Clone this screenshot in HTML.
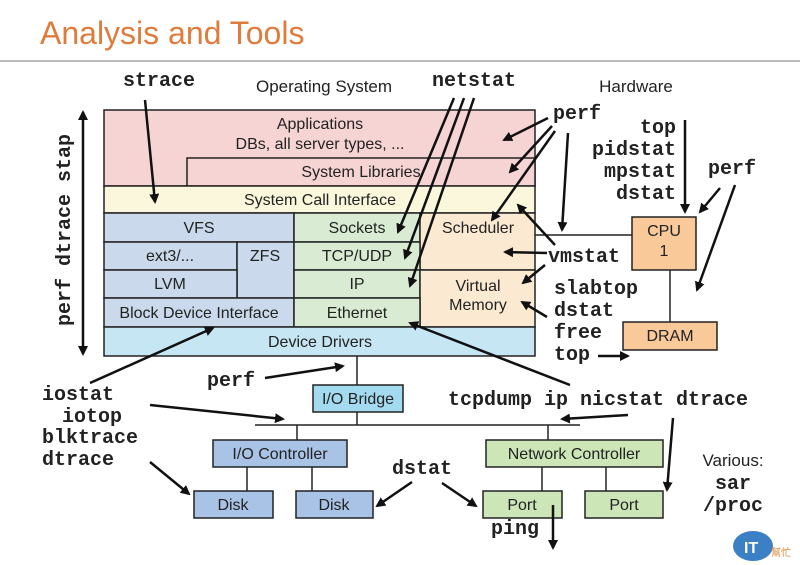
<!DOCTYPE html>
<html><head><meta charset="utf-8"><style>
html,body{margin:0;padding:0;background:#fff;width:800px;height:565px;overflow:hidden}
svg{display:block}
.s{font-family:"Liberation Sans",sans-serif;font-size:16px;fill:#222}
.m{font-family:"Liberation Mono",monospace;font-size:20px;font-weight:bold;fill:#222}
</style></head><body>
<svg width="800" height="565" viewBox="0 0 800 565">
<defs><marker id="a" markerWidth="10" markerHeight="10" refX="8" refY="5" orient="auto" markerUnits="userSpaceOnUse"><path d="M0,0 L10,5 L0,10 z" fill="#111"/></marker>
<marker id="b" markerWidth="10" markerHeight="10" refX="2" refY="5" orient="auto" markerUnits="userSpaceOnUse"><path d="M10,0 L0,5 L10,10 z" fill="#111"/></marker></defs>
<text x="40" y="44" font-family="Liberation Sans,sans-serif" font-size="32" fill="#e07b3c">Analysis and Tools</text>
<line x1="0" y1="61" x2="800" y2="61" stroke="#bbb" stroke-width="2"/>
<g stroke="#222" stroke-width="1.5">
<rect x="104" y="110" width="431" height="76" fill="#f6d4d4"/>
<rect x="187" y="158" width="348" height="28" fill="#f6d4d4"/>
<rect x="104" y="186" width="431" height="27" fill="#fbf7dc"/>
<rect x="104" y="213" width="190" height="29" fill="#cadaec"/>
<rect x="294" y="213" width="126" height="29" fill="#d9ecd3"/>
<rect x="420" y="213" width="115" height="57" fill="#fbead1"/>
<rect x="104" y="242" width="133" height="28" fill="#cadaec"/>
<rect x="237" y="242" width="57" height="56" fill="#cadaec"/>
<rect x="294" y="242" width="126" height="28" fill="#d9ecd3"/>
<rect x="104" y="270" width="133" height="28" fill="#cadaec"/>
<rect x="294" y="270" width="126" height="28" fill="#d9ecd3"/>
<rect x="420" y="270" width="115" height="57" fill="#fbead1"/>
<rect x="104" y="298" width="190" height="29" fill="#cadaec"/>
<rect x="294" y="298" width="126" height="29" fill="#d9ecd3"/>
<rect x="104" y="327" width="431" height="29" fill="#c6e6f3"/>
<line x1="535" y1="235" x2="632" y2="235"/>
<rect x="632" y="217" width="64" height="53" fill="#f9c99a"/>
<line x1="670" y1="270" x2="670" y2="322"/>
<rect x="623" y="322" width="94" height="28" fill="#f9c99a"/>
<line x1="357" y1="356" x2="357" y2="385"/>
<rect x="313" y="385" width="90" height="27" fill="#a4daef"/>
<line x1="357" y1="412" x2="357" y2="425"/>
<line x1="255" y1="425" x2="580" y2="425"/>
<line x1="297" y1="425" x2="297" y2="440"/>
<line x1="548" y1="425" x2="548" y2="440"/>
<rect x="213" y="440" width="134" height="27" fill="#a9c3e6"/>
<rect x="486" y="440" width="177" height="27" fill="#cde6b8"/>
<line x1="247" y1="467" x2="247" y2="491"/>
<line x1="312" y1="467" x2="312" y2="491"/>
<line x1="542" y1="467" x2="542" y2="491"/>
<line x1="606" y1="467" x2="606" y2="491"/>
<rect x="194" y="491" width="79" height="27" fill="#a9c3e6"/>
<rect x="296" y="491" width="77" height="27" fill="#a9c3e6"/>
<rect x="483" y="491" width="79" height="27" fill="#cde6b8"/>
<rect x="585" y="491" width="78" height="27" fill="#cde6b8"/>
</g>
<g class="s" text-anchor="middle">
<text x="320" y="129">Applications</text>
<text x="320" y="149">DBs, all server types, ...</text>
<text x="361" y="177">System Libraries</text>
<text x="320" y="205">System Call Interface</text>
<text x="199" y="233">VFS</text>
<text x="357" y="233">Sockets</text>
<text x="478" y="233">Scheduler</text>
<text x="170" y="261">ext3/...</text>
<text x="265" y="261">ZFS</text>
<text x="357" y="261">TCP/UDP</text>
<text x="170" y="289">LVM</text>
<text x="357" y="289">IP</text>
<text x="478" y="291">Virtual</text>
<text x="478" y="310">Memory</text>
<text x="199" y="318">Block Device Interface</text>
<text x="357" y="318">Ethernet</text>
<text x="320" y="347">Device Drivers</text>
<text x="664" y="236">CPU</text>
<text x="664" y="256">1</text>
<text x="670" y="341">DRAM</text>
<text x="358" y="404">I/O Bridge</text>
<text x="280" y="459">I/O Controller</text>
<text x="574" y="459">Network Controller</text>
<text x="233" y="510">Disk</text>
<text x="334" y="510">Disk</text>
<text x="522" y="510">Port</text>
<text x="624" y="510">Port</text>
<text x="324" y="92" font-size="17">Operating System</text>
<text x="636" y="92" font-size="17">Hardware</text>
<text x="733" y="466" font-size="17">Various:</text>
</g>
<g class="m">
<text x="123" y="86">strace</text>
<text x="432" y="86">netstat</text>
<text x="553" y="119">perf</text>
<text x="676" y="133" text-anchor="end">top</text>
<text x="676" y="155" text-anchor="end">pidstat</text>
<text x="676" y="177" text-anchor="end">mpstat</text>
<text x="676" y="199" text-anchor="end">dstat</text>
<text x="708" y="174">perf</text>
<text x="548" y="262">vmstat</text>
<text x="554" y="294">slabtop</text>
<text x="554" y="316">dstat</text>
<text x="554" y="338">free</text>
<text x="554" y="360">top</text>
<text x="207" y="386">perf</text>
<text x="42" y="400">iostat</text>
<text x="62" y="422">iotop</text>
<text x="42" y="443">blktrace</text>
<text x="42" y="465">dtrace</text>
<text x="448" y="405">tcpdump ip nicstat dtrace</text>
<text x="392" y="474">dstat</text>
<text x="491" y="534">ping</text>
<text x="733" y="489" text-anchor="middle">sar</text>
<text x="733" y="511" text-anchor="middle">/proc</text>
<text transform="translate(70,230) rotate(-90)" text-anchor="middle">perf dtrace stap</text>
</g>
<g stroke="#111" stroke-width="2.5" fill="none" marker-end="url(#a)">
<line x1="83" y1="112" x2="83" y2="354" marker-start="url(#b)"/>
<line x1="145" y1="100" x2="155" y2="202"/>
<line x1="454" y1="98" x2="398" y2="232"/>
<line x1="464" y1="98" x2="405" y2="258"/>
<line x1="474" y1="98" x2="410" y2="286"/>
<line x1="548" y1="118" x2="504" y2="140"/>
<line x1="552" y1="126" x2="510" y2="172"/>
<line x1="555" y1="131" x2="492" y2="220"/>
<line x1="568" y1="133" x2="562" y2="230"/>
<line x1="685" y1="120" x2="685" y2="212"/>
<line x1="720" y1="188" x2="700" y2="212"/>
<line x1="735" y1="185" x2="697" y2="290"/>
<line x1="555" y1="245" x2="518" y2="205"/>
<line x1="547" y1="253" x2="505" y2="252"/>
<line x1="545" y1="265" x2="523" y2="283"/>
<line x1="547" y1="317" x2="522" y2="302"/>
<line x1="598" y1="356" x2="628" y2="356"/>
<line x1="570" y1="385" x2="410" y2="323"/>
<line x1="90" y1="383" x2="213" y2="328"/>
<line x1="265" y1="378" x2="343" y2="366"/>
<line x1="150" y1="405" x2="283" y2="419"/>
<line x1="150" y1="462" x2="189" y2="494"/>
<line x1="628" y1="415" x2="562" y2="419"/>
<line x1="673" y1="418" x2="667" y2="490"/>
<line x1="412" y1="482" x2="377" y2="506"/>
<line x1="442" y1="483" x2="476" y2="506"/>
<line x1="553" y1="505" x2="553" y2="548"/>
</g>
<ellipse cx="753" cy="546" rx="20" ry="15" fill="#3b7fc4"/>
<text x="744" y="553" font-family="Liberation Sans,sans-serif" font-size="16" font-weight="bold" fill="#fff">IT</text>
<text x="771" y="556" font-family="Noto Sans CJK TC,sans-serif" font-size="10" fill="#e08a3c">幫忙</text>
</svg>
</body></html>
